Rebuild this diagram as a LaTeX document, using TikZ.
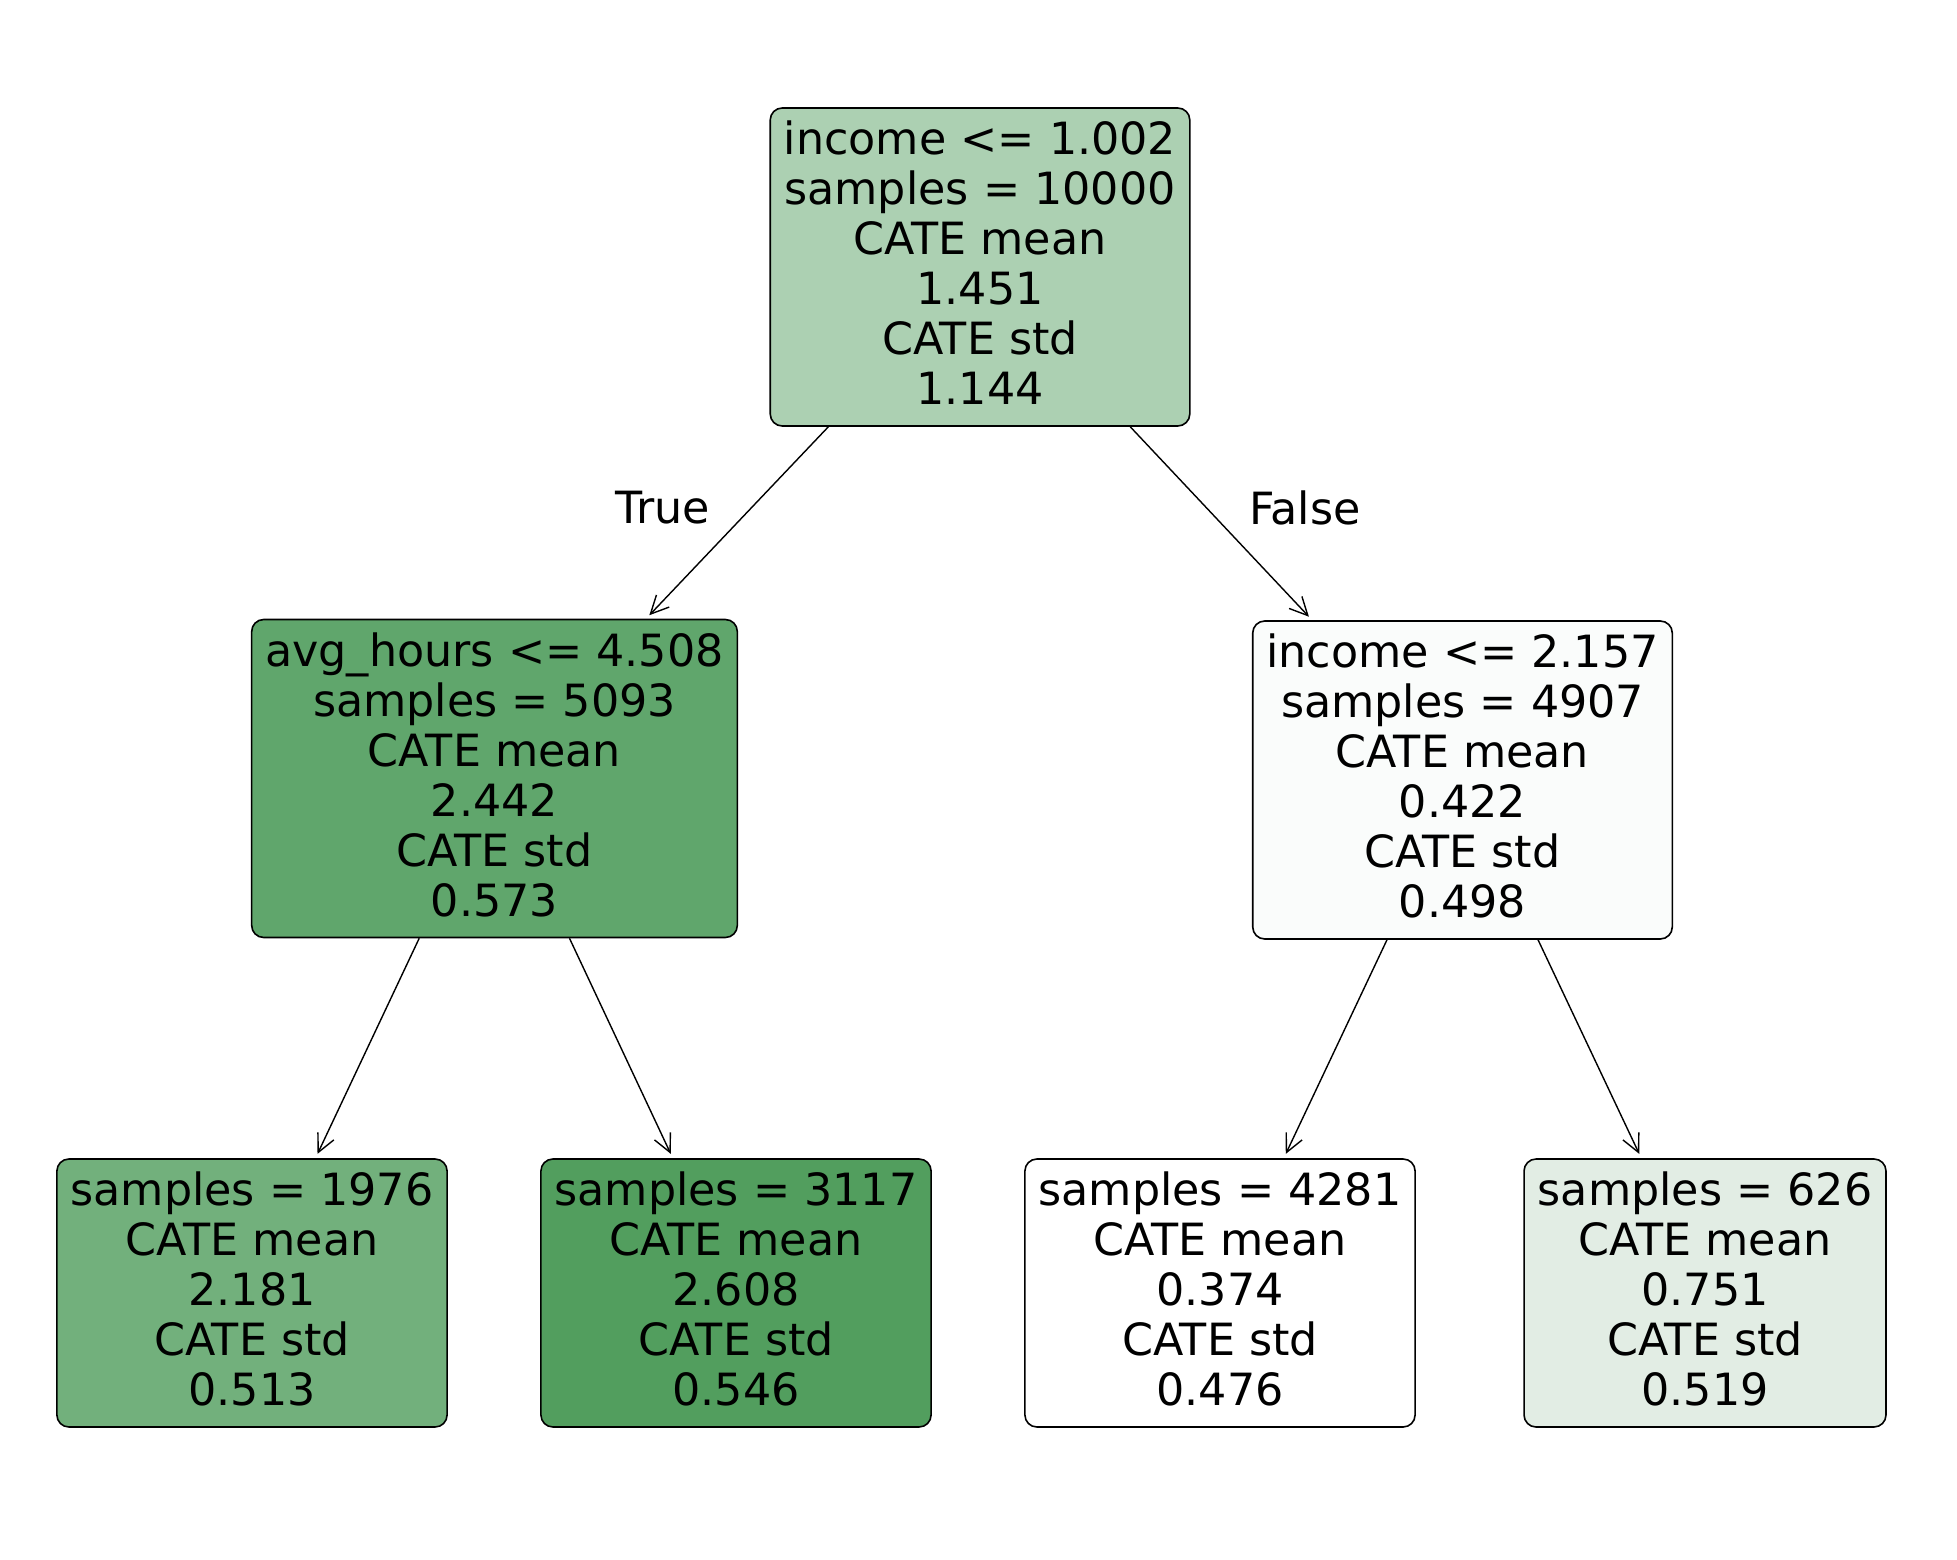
\documentclass[tikz,border=0pt]{standalone}
\usepackage{fontspec}
\setmainfont{DejaVu Sans}
\usetikzlibrary{arrows.meta}

\definecolor{rootfill}{RGB}{172,208,178}
\definecolor{lmidfill}{RGB}{96,166,108}
\definecolor{rmidfill}{RGB}{250,252,251}
\definecolor{leafAfill}{RGB}{114,176,124}
\definecolor{leafBfill}{RGB}{82,158,94}
\definecolor{leafCfill}{RGB}{255,255,255}
\definecolor{leafDfill}{RGB}{226,237,228}

\tikzset{
	treefont/.style={font=\fontsize{11.1pt}{12.5pt}\selectfont},
	split/.style={draw, treefont, rounded corners=3pt, line width=0.4pt, align=center,
		inner xsep=3.4pt, inner ysep=0pt, minimum height=79.5pt,
		execute at end node={\rule[-2pt]{0pt}{0pt}}},
	leaf/.style={split, minimum height=67pt},
	branch/.style={line width=0.35pt, -{Straight Barb[length=4.5pt,width=4.4pt]}, shorten >=1.2pt}
}

\begin{document}
\begin{tikzpicture}[x=0.25pt, y=-0.25pt]
	\useasboundingbox (0,0) rectangle (1957,1560);
	\node[split, fill=rootfill] (root) at (980,267) {income <= 1.002\\samples = 10000\\CATE mean\\1.451\\CATE std\\1.144};
    \node[split, fill=lmidfill] (lmid) at (494.5,778.5) {avg\_hours <= 4.508\\samples = 5093\\CATE mean\\2.442\\CATE std\\0.573};
    \node[split, fill=rmidfill] (rmid) at (1462.5,780) {income <= 2.157\\samples = 4907\\CATE mean\\0.422\\CATE std\\0.498};
    \node[leaf, fill=leafAfill] (leafA) at (252,1293) {samples = 1976\\CATE mean\\2.181\\CATE std\\0.513};
    \node[leaf, fill=leafBfill] (leafB) at (736,1293) {samples = 3117\\CATE mean\\2.608\\CATE std\\0.546};
    \node[leaf, fill=leafCfill] (leafC) at (1220,1293) {samples = 4281\\CATE mean\\0.374\\CATE std\\0.476};
    \node[leaf, fill=leafDfill] (leafD) at (1705,1293) {samples = 626\\CATE mean\\0.751\\CATE std\\0.519};
	%branches
    \draw[branch] (root) -- (lmid);
    \draw[branch] (root) -- (rmid);
    \draw[branch] (lmid) -- (leafA);
    \draw[branch] (lmid) -- (leafB);
    \draw[branch] (rmid) -- (leafC);
    \draw[branch] (rmid) -- (leafD);
    \node[treefont] (truelabel) at (663,508) {True};
    \node[treefont] (falselabel) at (1305,508) {False};
\end{tikzpicture}
\end{document}
